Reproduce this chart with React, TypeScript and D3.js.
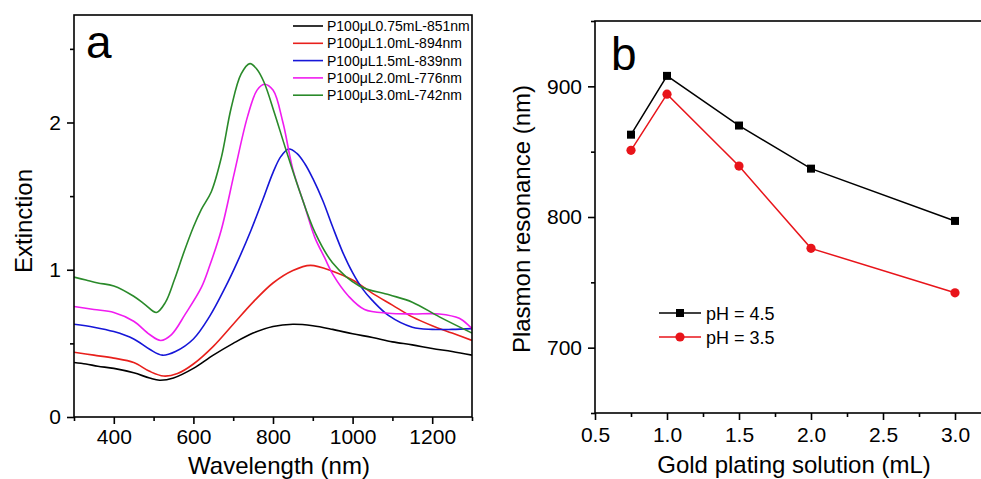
import React, { useEffect, useRef } from "react";
import * as d3 from "d3";

const FONT = "'Liberation Sans', Arial, Helvetica, sans-serif";

// Panel a: extinction spectra [wavelength nm, extinction]
const legendA = [
  "P100μL0.75mL-851nm",
  "P100μL1.0mL-894nm",
  "P100μL1.5mL-839nm",
  "P100μL2.0mL-776nm",
  "P100μL3.0mL-742nm",
];
const colorsA = ["#000000", "#e8201c", "#1616d8", "#f01cf0", "#2a8a2a"];

const spec075: [number, number][] = [
  [300, 0.37], [330, 0.36], [360, 0.345], [400, 0.33], [450, 0.3], [490, 0.265], [515, 0.25],
  [550, 0.265], [600, 0.33], [650, 0.42], [700, 0.5], [750, 0.57], [800, 0.615], [850, 0.63],
  [900, 0.62], [950, 0.595], [1000, 0.565], [1050, 0.54], [1100, 0.51], [1150, 0.49],
  [1200, 0.465], [1250, 0.445], [1300, 0.42],
];
const spec10: [number, number][] = [
  [300, 0.44], [350, 0.42], [400, 0.4], [450, 0.37], [490, 0.31], [525, 0.278], [560, 0.295],
  [600, 0.36], [650, 0.48], [700, 0.63], [750, 0.78], [800, 0.91], [850, 0.995], [894, 1.03],
  [950, 0.99], [1000, 0.93], [1050, 0.84], [1100, 0.76], [1150, 0.68], [1200, 0.62],
  [1250, 0.57], [1300, 0.52],
];
const spec15: [number, number][] = [
  [300, 0.63], [350, 0.61], [400, 0.58], [450, 0.53], [490, 0.46], [522, 0.42], [555, 0.445],
  [600, 0.53], [640, 0.68], [680, 0.88], [710, 1.05], [745, 1.27], [775, 1.48], [800, 1.66],
  [820, 1.77], [840, 1.82], [860, 1.79], [880, 1.72], [900, 1.62], [925, 1.47], [950, 1.29],
  [975, 1.12], [1000, 0.98], [1025, 0.87], [1050, 0.79], [1090, 0.69], [1150, 0.61],
  [1200, 0.595], [1250, 0.595], [1300, 0.6],
];
const spec20: [number, number][] = [
  [300, 0.75], [350, 0.73], [400, 0.71], [450, 0.65], [490, 0.56], [518, 0.52], [545, 0.56],
  [580, 0.7], [620, 0.88], [640, 1.02], [670, 1.27], [703, 1.66], [736, 2.04], [760, 2.22],
  [778, 2.26], [800, 2.22], [825, 2.0], [850, 1.68], [880, 1.43], [905, 1.22], [930, 1.08],
  [950, 0.97], [990, 0.82], [1030, 0.73], [1090, 0.705], [1150, 0.7], [1218, 0.7],
  [1268, 0.67], [1300, 0.6],
];
const spec30: [number, number][] = [
  [300, 0.95], [330, 0.93], [360, 0.91], [400, 0.89], [450, 0.82], [480, 0.76], [507, 0.71],
  [530, 0.78], [552, 0.93], [575, 1.11], [600, 1.29], [620, 1.41], [645, 1.53], [670, 1.76],
  [695, 2.1], [720, 2.33], [742, 2.4], [760, 2.36], [778, 2.27], [803, 2.07], [832, 1.82],
  [866, 1.54], [906, 1.25], [949, 1.05], [1017, 0.89], [1092, 0.83], [1150, 0.78],
  [1218, 0.68], [1300, 0.57],
];
const spectra = [spec075, spec10, spec15, spec20, spec30];

const xTicksA = [400, 600, 800, 1000, 1200];
const xMinorA = [300, 500, 700, 900, 1100, 1300];
const yTicksA = [0, 1, 2];
const yMinorA = [0.5, 1.5, 2.5];

// Panel b
const goldVolume = [0.75, 1.0, 1.5, 2.0, 3.0];
const ph45 = [863, 908, 870, 837, 797];
const ph35 = [851, 894, 839, 776, 742];
const legendB = ["pH = 4.5", "pH = 3.5"];
const xTicksB = [0.5, 1.0, 1.5, 2.0, 2.5, 3.0];
const xMinorB = [0.75, 1.25, 1.75, 2.25, 2.75];
const yTicksB = [700, 800, 900];
const yMinorB = [650, 750, 850, 950];

export default function App() {
  const ref = useRef<SVGSVGElement>(null);

  useEffect(() => {
    const svg = d3.select(ref.current as SVGSVGElement);
    svg.selectAll("*").remove();

    const styleAxis = (g: any, fs = 21) => {
      g.select(".domain").remove();
      g.selectAll("line").attr("stroke", "#000").attr("stroke-width", 1.6);
      g.selectAll("text").attr("font-family", FONT).attr("font-size", fs).attr("fill", "#000");
    };

    // ---------- Panel a ----------
    const ax = d3.scaleLinear().domain([300, 1300]).range([74, 472]);
    const ay = d3.scaleLinear().domain([0, 2.73]).range([417, 15]);

    svg.append("clipPath").attr("id", "clipA")
      .append("rect").attr("x", 74).attr("y", 15).attr("width", 398).attr("height", 402);

    const line = d3.line<[number, number]>()
      .x((d) => ax(d[0])).y((d) => ay(d[1]))
      .curve(d3.curveCatmullRom.alpha(0.5));

    const gA = svg.append("g").attr("clip-path", "url(#clipA)");
    spectra.forEach((s, i) => {
      gA.append("path").attr("d", line(s) as string).attr("fill", "none")
        .attr("stroke", colorsA[i]).attr("stroke-width", 1.6);
    });

    const xa = svg.append("g").attr("transform", `translate(0,${ay(0)})`)
      .call(d3.axisBottom(ax).tickValues(xTicksA).tickSize(7).tickPadding(5).tickFormat(d3.format("d")));
    styleAxis(xa);
    const xam = svg.append("g").attr("transform", `translate(0,${ay(0)})`)
      .call(d3.axisBottom(ax).tickValues(xMinorA).tickSize(4).tickFormat(() => ""));
    styleAxis(xam);
    const ya = svg.append("g").attr("transform", `translate(${ax(300)},0)`)
      .call(d3.axisLeft(ay).tickValues(yTicksA).tickSize(7).tickPadding(6).tickFormat(d3.format("d")));
    styleAxis(ya);
    const yam = svg.append("g").attr("transform", `translate(${ax(300)},0)`)
      .call(d3.axisLeft(ay).tickValues(yMinorA).tickSize(4).tickFormat(() => ""));
    styleAxis(yam);

    svg.append("rect").attr("x", ax(300)).attr("y", ay(2.73))
      .attr("width", ax(1300) - ax(300)).attr("height", ay(0) - ay(2.73))
      .attr("fill", "none").attr("stroke", "#000").attr("stroke-width", 1.6);

    // legend a
    legendA.forEach((t, i) => {
      const y = 26 + i * 17.3;
      svg.append("line").attr("x1", 293).attr("x2", 323).attr("y1", y).attr("y2", y)
        .attr("stroke", colorsA[i]).attr("stroke-width", 1.6);
      svg.append("text").attr("x", 327).attr("y", y + 5).text(t)
        .attr("font-family", FONT).attr("font-size", 14).attr("fill", "#000");
    });

    svg.append("text").attr("x", 86).attr("y", 58).text("a")
      .attr("font-family", FONT).attr("font-size", 46).attr("fill", "#000");

    svg.append("text").attr("x", 279).attr("y", 474).text("Wavelength (nm)")
      .attr("text-anchor", "middle").attr("font-family", FONT).attr("font-size", 24).attr("fill", "#000");
    svg.append("text").attr("transform", "translate(32,221) rotate(-90)").text("Extinction")
      .attr("text-anchor", "middle").attr("font-family", FONT).attr("font-size", 24).attr("fill", "#000");

    // ---------- Panel b ----------
    const bx = d3.scaleLinear().domain([0.5, 3.25]).range([595, 991]);
    const by = d3.scaleLinear().domain([650, 950]).range([413, 21]);

    const xb = svg.append("g").attr("transform", `translate(0,${by(650)})`)
      .call(d3.axisBottom(bx).tickValues(xTicksB).tickSize(7).tickPadding(7).tickFormat(d3.format(".1f")));
    styleAxis(xb);
    const xbm = svg.append("g").attr("transform", `translate(0,${by(650)})`)
      .call(d3.axisBottom(bx).tickValues(xMinorB).tickSize(4).tickFormat(() => ""));
    styleAxis(xbm);
    const yb = svg.append("g").attr("transform", `translate(${bx(0.5)},0)`)
      .call(d3.axisLeft(by).tickValues(yTicksB).tickSize(7).tickPadding(6).tickFormat(d3.format("d")));
    styleAxis(yb);
    const ybm = svg.append("g").attr("transform", `translate(${bx(0.5)},0)`)
      .call(d3.axisLeft(by).tickValues(yMinorB).tickSize(4).tickFormat(() => ""));
    styleAxis(ybm);

    svg.append("rect").attr("x", bx(0.5)).attr("y", by(950))
      .attr("width", bx(3.25) - bx(0.5)).attr("height", by(650) - by(950))
      .attr("fill", "none").attr("stroke", "#000").attr("stroke-width", 1.6);

    const lineB = d3.line<number>().x((_, i) => bx(goldVolume[i])).y((d) => by(d));
    svg.append("path").attr("d", lineB(ph45) as string).attr("fill", "none")
      .attr("stroke", "#000").attr("stroke-width", 1.5);
    svg.append("path").attr("d", lineB(ph35) as string).attr("fill", "none")
      .attr("stroke", "#e8141a").attr("stroke-width", 1.5);
    ph45.forEach((v, i) => {
      svg.append("rect").attr("x", bx(goldVolume[i]) - 4).attr("y", by(v) - 4)
        .attr("width", 8).attr("height", 8).attr("fill", "#000");
    });
    ph35.forEach((v, i) => {
      svg.append("circle").attr("cx", bx(goldVolume[i])).attr("cy", by(v)).attr("r", 4.6)
        .attr("fill", "#e8141a");
    });

    // legend b
    legendB.forEach((t, i) => {
      const y = 313 + i * 24;
      const c = i === 0 ? "#000" : "#e8141a";
      svg.append("line").attr("x1", 659).attr("x2", 701).attr("y1", y).attr("y2", y)
        .attr("stroke", c).attr("stroke-width", 1.5);
      if (i === 0) {
        svg.append("rect").attr("x", 676).attr("y", y - 4).attr("width", 8).attr("height", 8).attr("fill", c);
      } else {
        svg.append("circle").attr("cx", 680).attr("cy", y).attr("r", 4.6).attr("fill", c);
      }
      svg.append("text").attr("x", 706).attr("y", y + 6.5).text(t)
        .attr("font-family", FONT).attr("font-size", 18).attr("fill", "#000");
    });

    svg.append("text").attr("x", 611).attr("y", 70).text("b")
      .attr("font-family", FONT).attr("font-size", 46).attr("fill", "#000");

    svg.append("text").attr("x", 794).attr("y", 473).text("Gold plating solution (mL)")
      .attr("text-anchor", "middle").attr("font-family", FONT).attr("font-size", 24).attr("fill", "#000");
    svg.append("text").attr("transform", "translate(530,219) rotate(-90)").text("Plasmon resonance (nm)")
      .attr("text-anchor", "middle").attr("font-family", FONT).attr("font-size", 24).attr("fill", "#000");
  }, []);

  return (
    <svg
      ref={ref}
      width={981}
      height={479}
      style={{ position: "absolute", left: 0, top: 0, background: "#fff", display: "block" }}
    />
  );
}
